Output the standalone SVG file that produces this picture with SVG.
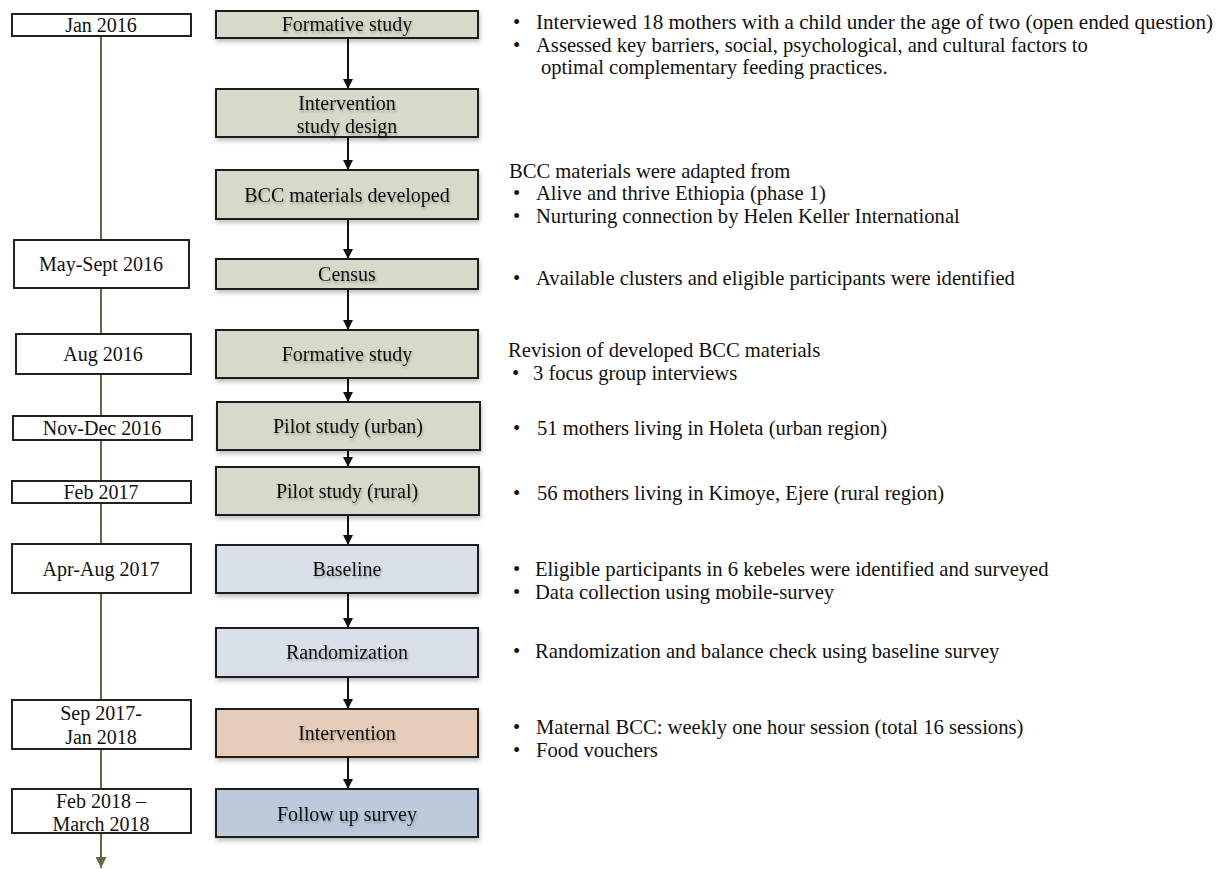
<svg xmlns="http://www.w3.org/2000/svg" width="1219" height="869" viewBox="0 0 1219 869">
<style>
  .date rect { fill: #ffffff; stroke: #222222; stroke-width: 2; }
  .step rect { stroke: #1a1a1a; stroke-width: 2; filter: url(#boxShadow); }
  .green rect { fill: #d5dbc8; }
  .light rect { fill: #d9e0e9; }
  .orange rect { fill: #e6cdb9; }
  .blue rect { fill: #bccadb; }
  text { font-family: "Liberation Serif", "Times New Roman", serif; fill: #111111; }
  .bt { font-size: 20px; text-anchor: middle; filter: url(#textShadow); }
  .dt { font-size: 20px; text-anchor: middle; }
  .note { font-size: 20.6px; }
  .conn { stroke: #111111; stroke-width: 2; fill: none; marker-end: url(#arrowBlack); }
  .timeline { stroke: #5e6e3e; stroke-width: 2; fill: none; marker-end: url(#arrowGreen); }
</style>
<defs>
  <marker id="arrowBlack" markerWidth="10" markerHeight="10" refX="10" refY="5" orient="auto" markerUnits="userSpaceOnUse">
    <path d="M0,0 L10,5 L0,10 Z" fill="#111111"/>
  </marker>
  <marker id="arrowGreen" markerWidth="11" markerHeight="11" refX="11" refY="5.5" orient="auto" markerUnits="userSpaceOnUse">
    <path d="M0,0 L11,5.5 L0,11 Z" fill="#5e6e3e"/>
  </marker>
  <filter id="boxShadow" x="-5%" y="-20%" width="110%" height="150%">
    <feDropShadow dx="1" dy="3" stdDeviation="2" flood-color="#000000" flood-opacity="0.25"/>
  </filter>
  <filter id="textShadow" x="-10%" y="-30%" width="120%" height="170%">
    <feDropShadow dx="1" dy="2" stdDeviation="1.2" flood-color="#000000" flood-opacity="0.25"/>
  </filter>
</defs>

<g id="connectors">
  <line class="timeline" x1="101" y1="36" x2="101" y2="868"/>
  <line class="conn" x1="348" y1="38" x2="348" y2="89"/>
  <line class="conn" x1="348" y1="137" x2="348" y2="170"/>
  <line class="conn" x1="348" y1="219" x2="348" y2="259"/>
  <line class="conn" x1="348" y1="289" x2="348" y2="330"/>
  <line class="conn" x1="348" y1="378" x2="348" y2="402"/>
  <line class="conn" x1="348" y1="450" x2="348" y2="467"/>
  <line class="conn" x1="348" y1="515" x2="348" y2="545"/>
  <line class="conn" x1="348" y1="593" x2="348" y2="628"/>
  <line class="conn" x1="348" y1="677" x2="348" y2="709"/>
  <line class="conn" x1="348" y1="757" x2="348" y2="789"/>
</g>

<g id="date-jan2016" class="date"><rect x="12" y="14" width="179" height="22"/><text class="dt" x="101" y="32">Jan 2016</text></g>
<g id="date-maysept2016" class="date"><rect x="14" y="240" width="175" height="48"/><text class="dt" x="101" y="271">May-Sept 2016</text></g>
<g id="date-aug2016" class="date"><rect x="16" y="334" width="175" height="40"/><text class="dt" x="103" y="361">Aug 2016</text></g>
<g id="date-novdec2016" class="date"><rect x="13" y="416" width="179" height="24"/><text class="dt" x="102" y="435">Nov-Dec 2016</text></g>
<g id="date-feb2017" class="date"><rect x="12" y="481" width="179" height="22"/><text class="dt" x="101" y="499">Feb 2017</text></g>
<g id="date-apraug2017" class="date"><rect x="12" y="544" width="179" height="49"/><text class="dt" x="101" y="576">Apr-Aug 2017</text></g>
<g id="date-sep2017" class="date"><rect x="12" y="700" width="179" height="49"/><text class="dt" x="101" y="720">Sep 2017-</text><text class="dt" x="101" y="744">Jan 2018</text></g>
<g id="date-feb2018" class="date"><rect x="12" y="789" width="179" height="44"/><text class="dt" x="101" y="808">Feb 2018 –</text><text class="dt" x="101" y="831">March 2018</text></g>

<g id="step-formative1" class="step green"><rect x="216" y="11" width="262" height="27"/><text class="bt" x="347" y="31">Formative study</text></g>
<g id="step-design" class="step green"><rect x="216" y="89" width="262" height="48"/><text class="bt" x="347" y="110">Intervention</text><text class="bt" x="347" y="133">study design</text></g>
<g id="step-bcc" class="step green"><rect x="216" y="170" width="262" height="49"/><text class="bt" x="347" y="202">BCC materials developed</text></g>
<g id="step-census" class="step green"><rect x="216" y="259" width="262" height="30"/><text class="bt" x="347" y="281">Census</text></g>
<g id="step-formative2" class="step green"><rect x="216" y="330" width="262" height="48"/><text class="bt" x="347" y="361">Formative study</text></g>
<g id="step-pilot-urban" class="step green"><rect x="217" y="402" width="263" height="48"/><text class="bt" x="348" y="433">Pilot study (urban)</text></g>
<g id="step-pilot-rural" class="step green"><rect x="216" y="467" width="263" height="48"/><text class="bt" x="347" y="498">Pilot study (rural)</text></g>
<g id="step-baseline" class="step light"><rect x="216" y="545" width="262" height="48"/><text class="bt" x="347" y="576">Baseline</text></g>
<g id="step-randomization" class="step light"><rect x="216" y="628" width="262" height="49"/><text class="bt" x="347" y="659">Randomization</text></g>
<g id="step-intervention" class="step orange"><rect x="216" y="709" width="262" height="48"/><text class="bt" x="347" y="740">Intervention</text></g>
<g id="step-followup" class="step blue"><rect x="216" y="789" width="262" height="48"/><text class="bt" x="347" y="821">Follow up survey</text></g>

<g id="notes">
  <text class="note" x="513" y="29">•</text><text class="note" x="536" y="29" textLength="677" lengthAdjust="spacingAndGlyphs">Interviewed 18 mothers with a child under the age of two (open ended question)</text>
  <text class="note" x="513" y="52">•</text><text class="note" x="536" y="52">Assessed key barriers, social, psychological, and cultural factors to</text>
  <text class="note" x="541" y="74">optimal complementary feeding practices.</text>

  <text class="note" x="509" y="178">BCC materials were adapted from</text>
  <text class="note" x="513" y="200">•</text><text class="note" x="536" y="200">Alive and thrive Ethiopia (phase 1)</text>
  <text class="note" x="513" y="223">•</text><text class="note" x="536" y="223">Nurturing connection by Helen Keller International</text>

  <text class="note" x="513" y="285">•</text><text class="note" x="536" y="285">Available clusters and eligible participants were identified</text>

  <text class="note" x="508" y="357">Revision of developed BCC materials</text>
  <text class="note" x="512" y="380">•</text><text class="note" x="533" y="380">3 focus group interviews</text>

  <text class="note" x="513" y="435">•</text><text class="note" x="537" y="435">51 mothers living in Holeta (urban region)</text>

  <text class="note" x="513" y="500">•</text><text class="note" x="537" y="500">56 mothers living in Kimoye, Ejere (rural region)</text>

  <text class="note" x="513" y="576">•</text><text class="note" x="535" y="576">Eligible participants in 6 kebeles were identified and surveyed</text>
  <text class="note" x="513" y="599">•</text><text class="note" x="535" y="599">Data collection using mobile-survey</text>

  <text class="note" x="513" y="658">•</text><text class="note" x="535" y="658">Randomization and balance check using baseline survey</text>

  <text class="note" x="513" y="734">•</text><text class="note" x="536" y="734">Maternal BCC: weekly one hour session (total 16 sessions)</text>
  <text class="note" x="513" y="757">•</text><text class="note" x="536" y="757">Food vouchers</text>
</g>
</svg>
